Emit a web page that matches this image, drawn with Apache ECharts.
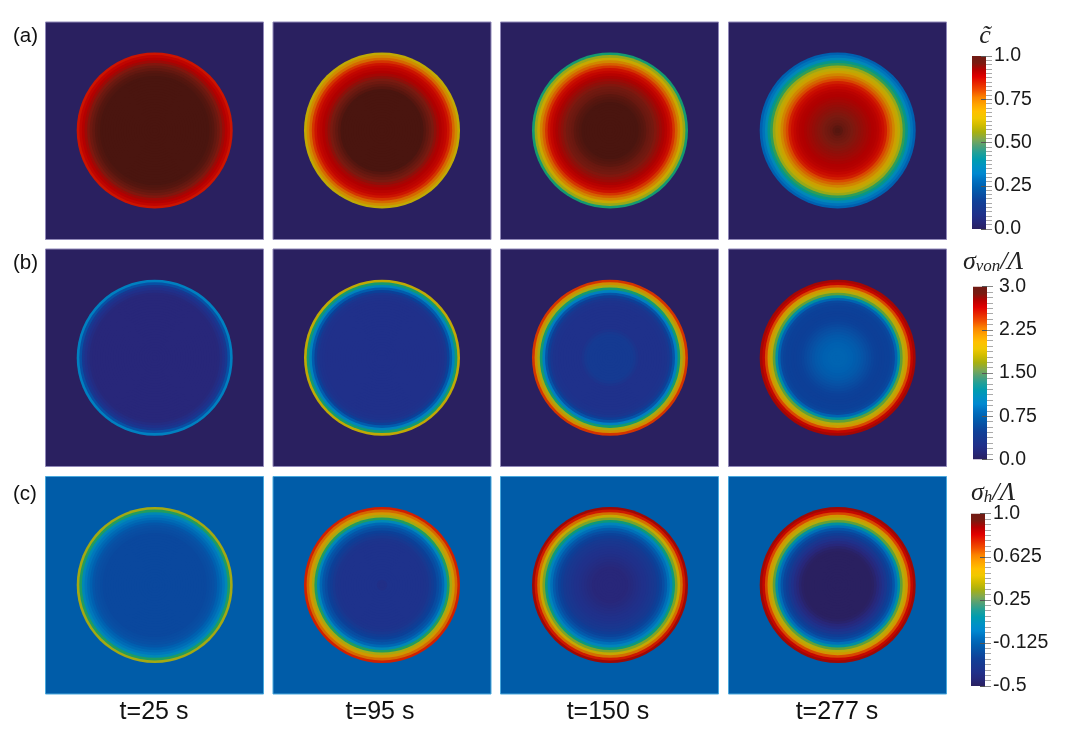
<!DOCTYPE html>
<html><head><meta charset="utf-8">
<style>html,body{margin:0;padding:0;background:#fff}#c{width:1080px;height:733px}</style>
<script src="https://cdn.jsdelivr.net/npm/echarts@6/dist/echarts.min.js"></script></head>
<body><div id="c"></div>
<script>
// ---------- data: ring values, centre (first) to rim (last) ----------
const times = ['t=25 s','t=95 s','t=150 s','t=277 s'];
const rowLetters = ['(a)','(b)','(c)'];
const cT25 = [1,1,1,1,1,1,1,1,1,1,1,1,1,1,1,1,1,1,1,1,1,.995,.99,.98,.97,.955,.935,.915,.895,.86];
const cT95 = [1,1,1,1,1,1,1,1,1,1,1,1,1,1,1,1,.99,.98,.97,.96,.945,.93,.92,.905,.89,.86,.82,.76,.7,.62];
const cT150 = [1,1,1,1,1,1,1,1,1,1,1,.995,.99,.985,.975,.97,.965,.955,.945,.935,.925,.91,.89,.865,.82,.77,.71,.64,.56,.46];
const cT277 = [.99,.985,.975,.97,.965,.96,.955,.95,.945,.94,.935,.93,.925,.92,.915,.905,.89,.87,.84,.8,.76,.71,.66,.61,.56,.49,.43,.36,.29,.24];
const vonT25 = [.12,.12,.12,.12,.12,.12,.12,.12,.12,.12,.12,.12,.12,.12,.12,.12,.12,.12,.12,.12,.12,.12,.12,.12,.13,.18,.24,.36,.6,.96];
const vonT95 = [.24,.24,.24,.24,.24,.24,.24,.24,.24,.24,.24,.24,.24,.24,.24,.24,.24,.24,.24,.24,.24,.24,.25,.27,.33,.48,.69,1.02,1.38,1.86];
const vonT150 = [.39,.39,.39,.39,.39,.39,.39,.39,.39,.36,.3,.26,.26,.26,.26,.26,.26,.26,.26,.26,.27,.28,.33,.45,.63,.96,1.38,1.74,2.1,2.46];
const vonT277 = [.75,.75,.75,.74,.73,.72,.7,.68,.66,.63,.6,.57,.54,.51,.49,.48,.47,.47,.48,.48,.5,.54,.75,1.2,1.56,1.8,2.04,2.4,2.67,2.79];
const hT25 = [-.23,-.23,-.23,-.23,-.23,-.23,-.23,-.23,-.23,-.23,-.23,-.23,-.23,-.23,-.23,-.23,-.23,-.23,-.23,-.23,-.22,-.21,-.2,-.18,-.14,-.1,-.05,.05,.22,.36];
const hT95 = [-.39,-.39,-.365,-.365,-.365,-.365,-.365,-.365,-.365,-.365,-.365,-.365,-.365,-.365,-.365,-.365,-.36,-.35,-.32,-.29,-.26,-.22,-.18,-.11,.04,.22,.37,.52,.64,.76];
const hT150 = [-.44,-.44,-.44,-.44,-.44,-.44,-.44,-.43,-.42,-.41,-.4,-.39,-.38,-.37,-.36,-.34,-.33,-.31,-.28,-.25,-.21,-.16,-.08,.02,.17,.31,.45,.62,.78,.9];
const hT277 = [-.5,-.5,-.5,-.5,-.5,-.5,-.5,-.5,-.5,-.5,-.5,-.5,-.5,-.49,-.47,-.44,-.41,-.37,-.33,-.28,-.24,-.18,-.08,.1,.28,.4,.52,.7,.83,.9];
const rowFields = [[cT25,cT95,cT150,cT277],[vonT25,vonT95,vonT150,vonT277],[hT25,hT95,hT150,hT277]];
const scaleMin = [0,0,-.5];
const scaleMax = [1,3,1];
const tickStep = [.25,.75,.375];
const tickLabels = [['0.0','0.25','0.50','0.75','1.0'],['0.0','0.75','1.50','2.25','3.0'],['-0.5','-0.125','0.25','0.625','1.0']];
const minorSplit = [10,8,8];
const barRamp = ['#2a2060','#25287a','#20308a','#183890','#104098','#0850a4','#0060b0','#0070c0','#0088d0','#0092c4','#009cb0','#20a098','#50a078','#80a850','#a8b010','#d0bc00','#f0c800','#ffc000','#ffa400','#fb8400','#f25000','#e82800','#e00000','#b80000','#7a1a10','#701a14'];
const fieldRamp = ['#2a2060','#28277a','#20308a','#183890','#0c4098','#0850a4','#0060b0','#0070b8','#0080c0','#0088b8','#0090a0','#089880','#209c60','#60a038','#98a818','#b8aa08','#c8a800','#d09800','#d08000','#d46800','#d84800','#d02000','#c80800','#b00000','#7a1a10','#4a150f'];

// ---------- layout ----------
const panelX = [45.5,273,500.5,728.5], panelW = 218;
const panelY = [22,249,476.5], panelH = 217.5;
const circleX = [154.7,382,610,837.7], circleY = [130.5,357.7,585], circleR = 78;
const timeX = [154,380,608,837];
const panelBg = ['#2a2060','#2a2060','#005ca8'], panelEdge = ['#9088b8','#9088b8','#4aa8dc'];
const barX = [972,973,971], barY = [56,286.7,513.7], barH = [173,172.6,172.3], barW = 14;
const labelGap = [8,12,8];
const FONT = '"Liberation Sans", Arial, sans-serif';

const grid=[], xAxis=[], yAxis=[], polar=[], angleAxis=[], radiusAxis=[], series=[], visualMap=[], title=[];
const rowSeries=[[],[],[]];
rowFields.forEach((fields,r)=>{
  fields.forEach((vals,c)=>{
    const gi=grid.length;
    grid.push({left:panelX[c],top:panelY[r],width:panelW,height:panelH,show:true,backgroundColor:panelBg[r],borderColor:panelEdge[r],borderWidth:1});
    xAxis.push({gridIndex:gi,show:false,type:'value',min:0,max:1});
    yAxis.push({gridIndex:gi,show:false,type:'value',min:0,max:1});
    const pi=polar.length;
    polar.push({center:[circleX[c],circleY[r]],radius:[0,circleR]});
    angleAxis.push({polarIndex:pi,type:'value',min:0,max:360,show:false,startAngle:90});
    radiusAxis.push({polarIndex:pi,type:'value',min:0,max:vals.length,show:false});
    rowSeries[r].push(series.length);
    // each ring is a disc out to its outer edge; drawn rim first so inner discs sit on top
    series.push({type:'custom',coordinateSystem:'polar',polarIndex:pi,silent:true,animation:false,z:3,
      encode:{radius:0,angle:1},data:vals.map((v,i)=>[i+1,0,v]).reverse(),
      renderItem:(p,api)=>{
        const pt=api.coord([api.value(0),0]), cx=p.coordSys.cx, cy=p.coordSys.cy;
        return {type:'circle',shape:{cx,cy,r:Math.hypot(pt[0]-cx,pt[1]-cy)},style:{fill:api.visual('color')}};
      }});
  });
});
rowFields.forEach((_,r)=>{
  visualMap.push({show:false,type:'continuous',min:scaleMin[r],max:scaleMax[r],dimension:2,seriesIndex:rowSeries[r],inRange:{color:fieldRamp}});
});
// colour bars
const stops = barRamp.map((color,i)=>({offset:i/(barRamp.length-1),color}));
scaleMin.forEach((mn,r)=>{
  const gi=grid.length, yi=yAxis.length;
  grid.push({left:barX[r],top:barY[r],width:barW,height:barH[r]});
  xAxis.push({gridIndex:gi,type:'value',min:0,max:1,show:false});
  yAxis.push({gridIndex:gi,type:'value',position:'right',min:mn,max:scaleMax[r],interval:tickStep[r],splitLine:{show:false},
    axisLine:{show:false,onZero:false},axisTick:{show:true,length:6,lineStyle:{color:'#888',width:1}},
    minorTick:{show:true,splitNumber:minorSplit[r],length:6,lineStyle:{color:'#aaa',width:1}},
    axisLabel:{show:true,margin:labelGap[r],color:'#1a1a1a',fontSize:19.5,fontFamily:FONT,showMinLabel:true,showMaxLabel:true,
      formatter:(v,i)=>tickLabels[r][i]}});
  yAxis.push({gridIndex:gi,type:'value',position:'right',min:mn,max:scaleMax[r],interval:tickStep[r],z:6,splitLine:{show:false},
    axisLine:{show:false,onZero:false},axisLabel:{show:false},axisTick:{show:true,inside:true,length:5,lineStyle:{color:'#555',width:1}}});
  series.push({type:'custom',xAxisIndex:gi,yAxisIndex:yi,silent:true,animation:false,z:3,data:[[mn,scaleMax[r]]],encode:{y:[0,1]},
    renderItem:(p,api)=>{
      const a=api.coord([0,api.value(0)]), b=api.coord([1,api.value(1)]);
      return {type:'rect',shape:{x:a[0],y:b[1],width:b[0]-a[0],height:a[1]-b[1]},
        style:{fill:new echarts.graphic.LinearGradient(0,1,0,0,stops)}};
    }});
  series.push({type:'line',xAxisIndex:gi,yAxisIndex:yi+1,data:[],silent:true});
});
// texts
times.forEach((t,c)=>title.push({text:t,left:timeX[c],top:712,padding:0,textAlign:'center',textVerticalAlign:'middle',textStyle:{fontFamily:FONT,fontSize:25,fontWeight:'normal',color:'#111'}}));
const letterY=[36,263,494];
rowLetters.forEach((t,r)=>title.push({text:t,left:13,top:letterY[r],padding:0,textVerticalAlign:'middle',textStyle:{fontFamily:FONT,fontSize:20.5,fontWeight:'normal',color:'#111'}}));
const mathRich={s:{fontFamily:'"Liberation Serif",serif',fontStyle:'italic',fontWeight:'normal',fontSize:26,color:'#222'},
  u:{fontFamily:'"Liberation Serif",serif',fontStyle:'italic',fontWeight:'normal',fontSize:17,color:'#222',padding:[8,0,0,0],verticalAlign:'bottom'}};
title.push({text:'{s|c\u0303}',left:985,top:36,padding:0,textAlign:'center',textVerticalAlign:'middle',textStyle:{rich:mathRich}});
title.push({text:'{s|\u03C3}{u|von}{s|/\u039B}',left:963,top:262,padding:0,textVerticalAlign:'middle',textStyle:{rich:mathRich}});
title.push({text:'{s|\u03C3}{u|h}{s|/\u039B}',left:971,top:493,padding:0,textVerticalAlign:'middle',textStyle:{rich:mathRich}});

const chart=echarts.init(document.getElementById('c'),null,{renderer:'canvas'});
chart.setOption({animation:false,backgroundColor:'#fff',title,grid,xAxis,yAxis,polar,angleAxis,radiusAxis,visualMap,series});
</script></body></html>
